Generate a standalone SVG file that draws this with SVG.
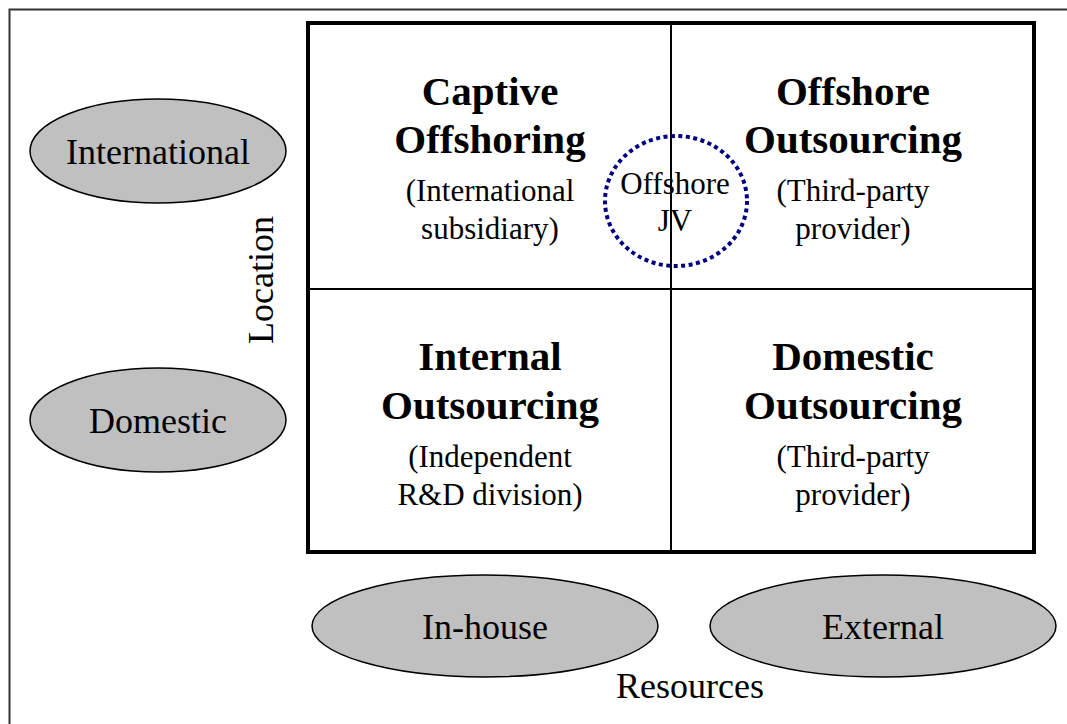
<svg xmlns="http://www.w3.org/2000/svg" width="1067" height="724" viewBox="0 0 1067 724">
<style>
text{font-family:"Liberation Serif","Times New Roman",serif;fill:#000;text-anchor:middle}
.oval{fill:#c0c0c0;stroke:#000;stroke-width:1.5}
.lbl{font-size:36px}
.ttl{font-size:41px;font-weight:bold}
.sub{font-size:31px}
.grid{fill:none;stroke:#000}
</style>
<rect width="1067" height="724" fill="#fff"/>
<g id="frame"><rect x="9.5" y="9.5" width="1070" height="730" fill="none" stroke="#333" stroke-width="2"/></g>
<g id="matrix">
<rect class="grid" x="308" y="23" width="726" height="529" stroke-width="4"/>
<line class="grid" x1="671" y1="23" x2="671" y2="552" stroke-width="2"/>
<line class="grid" x1="308" y1="289" x2="1034" y2="289" stroke-width="2"/>
</g>
<g id="captive">
<text class="ttl" x="490" y="105">Captive</text>
<text class="ttl" x="490" y="153">Offshoring</text>
<text class="sub" x="490" y="201">(International</text>
<text class="sub" x="490" y="239">subsidiary)</text>
</g>
<g id="offshore-outsourcing">
<text class="ttl" x="853" y="105">Offshore</text>
<text class="ttl" x="853" y="153">Outsourcing</text>
<text class="sub" x="853" y="201">(Third-party</text>
<text class="sub" x="853" y="239">provider)</text>
</g>
<g id="internal-outsourcing">
<text class="ttl" x="490" y="370">Internal</text>
<text class="ttl" x="490" y="419">Outsourcing</text>
<text class="sub" x="490" y="467">(Independent</text>
<text class="sub" x="490" y="505">R&amp;D division)</text>
</g>
<g id="domestic-outsourcing">
<text class="ttl" x="853" y="370">Domestic</text>
<text class="ttl" x="853" y="419">Outsourcing</text>
<text class="sub" x="853" y="467">(Third-party</text>
<text class="sub" x="853" y="505">provider)</text>
</g>
<g id="offshore-jv">
<ellipse cx="676" cy="201" rx="71" ry="65" fill="none" stroke="#000080" stroke-width="4" stroke-dasharray="4 3.5"/>
<text class="sub" x="675" y="194">Offshore</text>
<text class="sub" x="675" y="231">JV</text>
</g>
<g id="international">
<ellipse class="oval" cx="158" cy="151" rx="128" ry="52"/>
<text class="lbl" x="158" y="164">International</text>
</g>
<g id="domestic">
<ellipse class="oval" cx="158" cy="420" rx="128" ry="52"/>
<text class="lbl" x="158" y="433">Domestic</text>
</g>
<g id="in-house">
<ellipse class="oval" cx="485" cy="626" rx="173" ry="51"/>
<text class="lbl" x="485" y="639">In-house</text>
</g>
<g id="external">
<ellipse class="oval" cx="883" cy="626" rx="173" ry="51"/>
<text class="lbl" x="883" y="639">External</text>
</g>
<g id="axis-labels">
<text class="lbl" x="0" y="0" transform="translate(273,280) rotate(-90)">Location</text>
<text class="lbl" x="690" y="698">Resources</text>
</g>
<g id="connectors"></g>
</svg>
